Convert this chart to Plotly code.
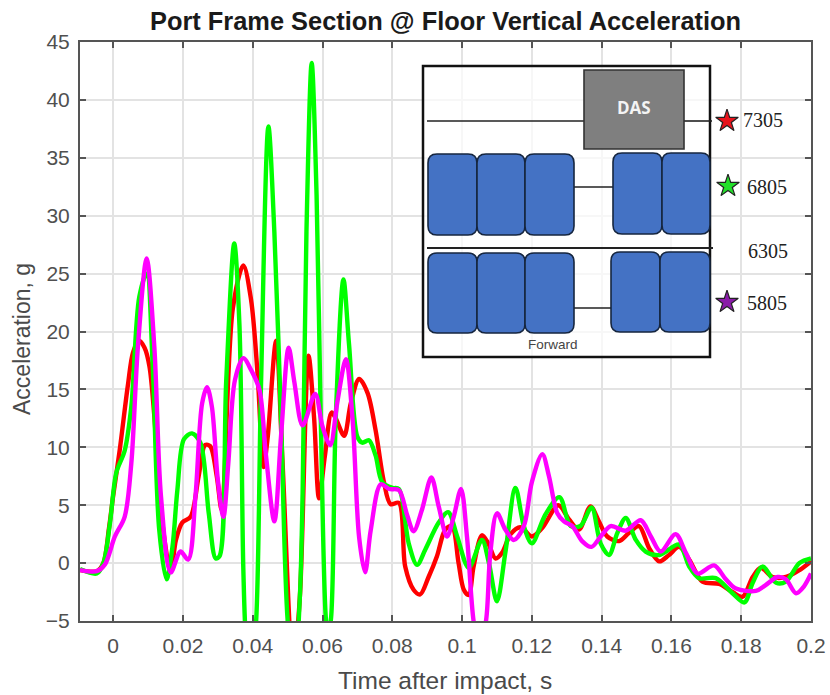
import plotly.graph_objects as go

W, H = 830, 695
L, R, T, B = 80, 811, 42, 621

red_t = [-.0095,-.0047,-.0028,-.0012,0,.0019,.0042,.0057,.0074,.009,.0104,.0118,.0137,.0165,.018,.0198,.0222,.0245,.0264,.0278,.0297,.0311,.0343,.0373,.0395,.0414,.0431,.0443,.0467,.0485,.0516,.0535,.056,.0576,.059,.0607,.0626,.0638,.0662,.0681,.0705,.0729,.0752,.0776,.0795,.0819,.0837,.0861,.088,.0904,.0928,.0952,.0971,.099,.1005,.1019,.1033,.1057,.1075,.1096,.1115,.1139,.1167,.12,.1229,.1276,.1306,.1335,.1368,.1392,.1416,.145,.1478,.1507,.1536,.1565,.1593,.1622,.1651,.1689,.1737,.1775,.1804,.1833,.1856,.189,.1928,.1967,.2]
red_v = [-.6,-.7,0,3,5.8,9.8,15.3,18.2,19.2,18.6,17,12.7,4.5,-.7,2,3.5,4,7.5,10.2,10.1,7.5,4.6,22,25.7,22.8,16.3,8.3,10.9,19.2,9,-9,-3,17.9,12.5,5.6,9.3,13,12.5,11,13.8,15.9,14.7,11.5,7,5.1,5.2,-.3,-2.3,-2.7,-1.2,.6,2.9,3.2,0,-2.3,-2.75,-.3,2.4,1.7,.4,.9,2.5,3.1,2.3,3,5,3.8,2.9,4.9,3.6,2.3,1.9,2.6,3.2,1.3,.15,.7,1.4,.3,-1.6,-1.8,-2.5,-2.9,-1.2,-.4,-1.2,-1.2,-.6,.15]

green_t = [-.0095,-.0047,-.0028,-.0009,.0009,.0033,.0052,.0075,.0096,.0113,.0132,.0153,.017,.0184,.0203,.0226,.025,.0274,.0294,.0305,.0324,.0347,.0362,.0373,.0381,.0395,.041,.0424,.0445,.0462,.0481,.05,.0519,.0535,.0543,.0554,.0569,.0583,.0595,.061,.0616,.0624,.0638,.066,.0676,.07,.0714,.0733,.0752,.0771,.08,.0819,.0847,.0871,.0895,.0933,.096,.0986,.1019,.1057,.1077,.11,.1124,.1153,.1177,.12,.1239,.1279,.1311,.1339,.1371,.1397,.1421,.1445,.1469,.1498,.1526,.1565,.1622,.1651,.1679,.1727,.1775,.1809,.1833,.1861,.19,.1928,.1967,.2]
green_v = [-.5,-.9,0,3.5,7.8,9.7,13.5,23,25,17.3,2.9,-1.4,1.4,6.3,10.7,11.2,10.4,4.3,.4,.6,15.7,27.6,20.5,-.4,-6.8,-10,-4.9,15.7,37.7,28.6,12.5,-4.9,-10,-3,6,28.6,43.2,31.8,12.5,-4.9,-6,-4.9,12.5,24.5,18.9,10.9,10.4,10.6,9.3,7,6.5,6.4,1.7,-.15,1.2,3.5,4.4,2.3,-.4,2,0,-3.3,.9,6.5,3.2,1.7,4.2,5.7,3.2,3.2,4.8,1.7,.7,2.6,3.9,2,1,.7,1.6,-.3,-1.3,-1.3,-2.6,-3.4,-1.7,-.3,-1.7,-1.6,0,.4]

magenta_t = [-.0095,-.0047,-.0024,.0005,.0033,.0052,.0071,.0096,.0118,.0137,.0165,.0193,.0215,.0236,.0255,.0269,.0283,.03,.0316,.033,.0349,.0373,.0395,.0419,.0438,.0462,.0481,.0503,.0519,.0543,.0579,.06,.0622,.0643,.0667,.0686,.0705,.0722,.0738,.0767,.0791,.0819,.0843,.0861,.0885,.0912,.0933,.0957,.0976,.0997,.1014,.1033,.105,.1069,.1081,.11,.1124,.1148,.1177,.12,.123,.1249,.1273,.1292,.1316,.1344,.1371,.1397,.1426,.1469,.1512,.1541,.1569,.1612,.1641,.1675,.1722,.1756,.1785,.1842,.187,.1904,.1928,.1957,.198,.2]
magenta_v = [-.6,-.7,-.15,2.3,4,8.6,18.7,26.3,18.7,5.8,-.8,1,.3,5.8,13.8,15.2,13.5,7.2,4,8.6,15.8,17.7,16.7,15,9.3,3.6,10.9,18.6,15.7,11.9,14.6,11.8,10.2,14,17.6,12.5,2.2,-.8,2.8,6.8,6.4,6.3,4.1,2.75,4.6,7.4,4.9,2.3,4,6.4,2.3,-5,-7.5,-4.9,.9,4.3,2.9,2,3.2,7,9.4,7.5,4.3,3.6,3.2,1.9,1.4,2.3,3.2,2.8,3.7,2.3,1,2.5,.9,-.9,-.2,-1.4,-2.2,-2.4,-1.9,-1.2,-1.4,-2.6,-2,-.9]

x_ticks = [0, .02, .04, .06, .08, .1, .12, .14, .16, .18, .2]
x_labels = ["0", "0.02", "0.04", "0.06", "0.08", "0.1", "0.12", "0.14", "0.16", "0.18", "0.2"]
y_ticks = [-5, 0, 5, 10, 15, 20, 25, 30, 35, 40, 45]

sensor_labels = ["7305", "6805", "6305", "5805"]
star_colors = ["#e8141c", "#22e02a", "#8a1aa8"]

def px(x):
    return (x - L) / (R - L)

def py(y):
    return (B - y) / (B - T)

def rrect(x0, y0, x1, y1, r=9):
    a0, b0, a1, b1 = px(x0), py(y0), px(x1), py(y1)
    ax, ay = r / (R - L), r / (B - T)
    return (f"M {a0+ax},{b0} L {a1-ax},{b0} Q {a1},{b0} {a1},{b0-ay} "
            f"L {a1},{b1+ay} Q {a1},{b1} {a1-ax},{b1} L {a0+ax},{b1} "
            f"Q {a0},{b1} {a0},{b1+ay} L {a0},{b0-ay} Q {a0},{b0} {a0+ax},{b0} Z")

def box(x0, y0, x1, y1, fill, line, w):
    return dict(type="rect", xref="paper", yref="paper", x0=px(x0), x1=px(x1),
                y0=py(y1), y1=py(y0), fillcolor=fill, line=dict(color=line, width=w), layer="above")

def seg(x0, y, x1, w=1.6):
    return dict(type="line", xref="paper", yref="paper", x0=px(x0), x1=px(x1),
                y0=py(y), y1=py(y), line=dict(color="#222222", width=w), layer="above")

shapes = [box(423, 66, 710, 357, "rgba(255,255,255,0.72)", "#111111", 2.5)]
shapes += [seg(427, 121, 584), seg(684, 121, 712), seg(574, 187, 613), seg(427, 248, 713, 1.8), seg(574, 308, 611)]
shapes.append(box(584, 70, 684, 149, "#7f7f7f", "#333333", 1.6))
for xa, xb, ya, yb in [(428,477,154,235),(477,525,154,235),(525,574,154,235),(613,662,153,234),(662,710,153,234),
                       (428,477,253,333),(477,525,253,333),(525,574,253,333),(611,660,252,332),(660,710,252,332)]:
    shapes.append(dict(type="path", xref="paper", yref="paper", path=rrect(xa, ya, xb, yb),
                       fillcolor="#4472c4", line=dict(color="#16263f", width=1.6), layer="above"))

def ann(text, x, y, size, color, family, **kw):
    return dict(text=text, xref="paper", yref="paper", x=px(x), y=py(y), xanchor="center", yanchor="middle",
                showarrow=False, font=dict(size=size, color=color, family=family), **kw)

serif = "Liberation Serif"
sans = "Liberation Sans"
annotations = [
    ann("<b>DAS</b>", 634, 108, 17, "#f4f4f4", "Open Sans"),
    ann("Forward", 553, 344, 13.5, "#444444", sans),
    ann(sensor_labels[0], 763, 120, 20, "#222222", serif),
    ann(sensor_labels[1], 767, 187, 20, "#222222", serif),
    ann(sensor_labels[2], 768, 251, 20, "#222222", serif),
    ann(sensor_labels[3], 767, 303, 20, "#222222", serif),
    ann("<b>Port Frame Section @ Floor Vertical Acceleration</b>", 445, 21, 25.4, "#1a1a1a", sans),
    ann("Time after impact, s", 445, 680, 24.5, "#4a4a4a", sans),
    ann("Acceleration, g", 22, 339, 23, "#4a4a4a", sans, textangle=-90),
]

fig = go.Figure()
for t, v, c in [(red_t, red_v, "#ff0000"), (green_t, green_v, "#00ff00"), (magenta_t, magenta_v, "#ff00ff")]:
    fig.add_trace(go.Scatter(x=t, y=v, mode="lines", showlegend=False,
                             line=dict(color=c, width=4.4, shape="spline", smoothing=0.9)))

XMIN, XMAX, YMIN, YMAX = -.0095, .2, -5, 45
def dx(p):
    return XMIN + (p - L) / (R - L) * (XMAX - XMIN)
def dy(p):
    return YMAX - (p - T) / (B - T) * (YMAX - YMIN)

fig.add_trace(go.Scatter(x=[dx(727), dx(728), dx(727)], y=[dy(121), dy(186), dy(302)], mode="markers",
                         showlegend=False, cliponaxis=False,
                         marker=dict(symbol="star", size=17, color=star_colors, line=dict(color="#222222", width=1.2))))

axis = dict(showgrid=True, gridcolor="#e3e3e3", gridwidth=2, zeroline=False, showline=True, mirror="ticks",
            automargin=False, linecolor="#555555", linewidth=2, ticks="inside", ticklen=6, tickwidth=1.5,
            tickcolor="#555555", tickfont=dict(size=21, color="#505050", family=sans))
fig.update_layout(
    width=W, height=H, autosize=False, paper_bgcolor="white", plot_bgcolor="white",
    margin=dict(l=L, r=W - R, t=T, b=H - B, autoexpand=False), showlegend=False, shapes=shapes, annotations=annotations,
    xaxis=dict(axis, range=[XMIN, XMAX], tickvals=x_ticks, ticktext=x_labels, ticklabelstandoff=5),
    yaxis=dict(axis, range=[YMIN, YMAX], tickvals=y_ticks, ticklabelstandoff=4),
)
fig.write_html("out.html", config=dict(displayModeBar=False),
               post_script="document.body.style.margin='0';document.documentElement.style.overflow='hidden';")
